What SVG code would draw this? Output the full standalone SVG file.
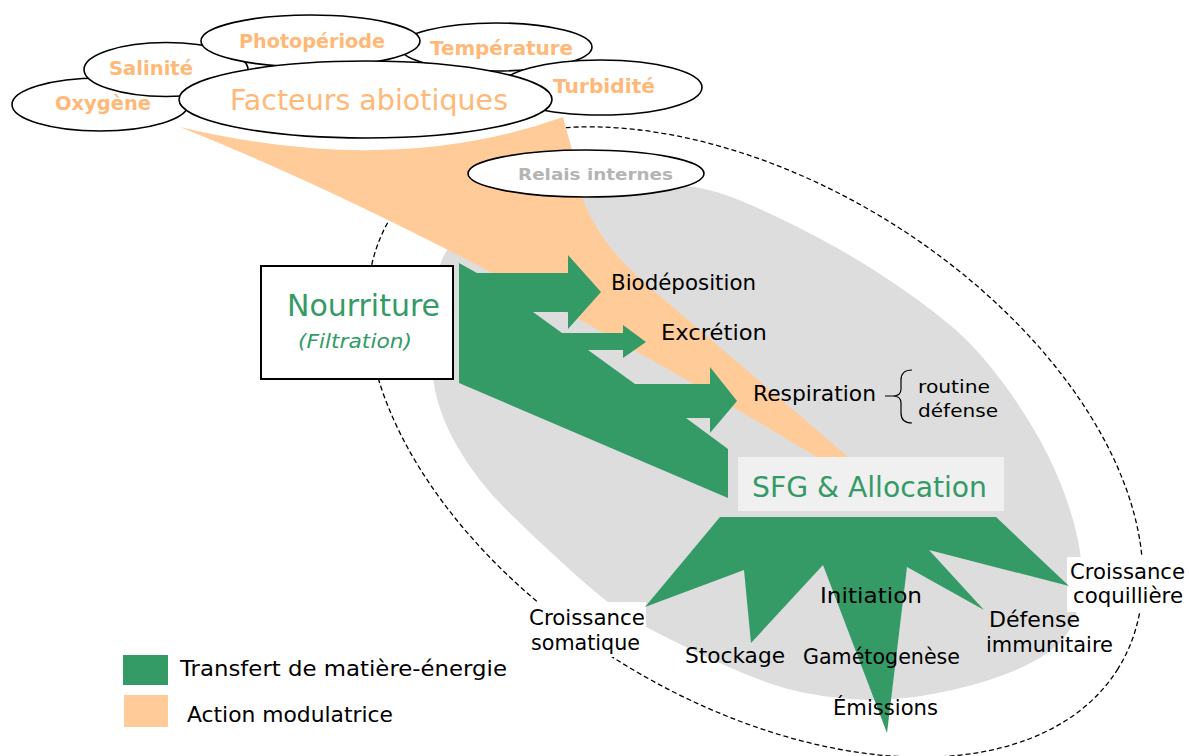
<svg xmlns="http://www.w3.org/2000/svg" width="1189" height="756" viewBox="0 0 1189 756">
<defs>
<style>
text{font-family:"DejaVu Sans","Liberation Sans",sans-serif;}
.lbl{font-size:21px;fill:#000;}
.grn{fill:#349a66;}
.gtx{fill:#349a66;}
.ora{fill:#ffcc99;}
.otx{fill:#ffb877;font-weight:bold;font-size:19px;}
.ell{fill:#fff;stroke:#000;stroke-width:1.6;}
</style>
</defs>
<rect width="1189" height="756" fill="#fff"/>
<g id="background">
<ellipse id="organism-outline" cx="755" cy="442" rx="428" ry="258" transform="rotate(32 755 442)" fill="none" stroke="#000" stroke-width="1.3" stroke-dasharray="5 3"/>
<path id="internal-zone" fill="#dddddd" d="M483.5,220 Q520,200 565,190 Q610,180 651.5,182.5 Q693,185 718,192.5 Q743,200 791.5,224 Q840,248 880,274 Q920,300 950,325 Q980,350 1010,392.5 Q1040,435 1056,472.5 Q1072,510 1078,540 Q1084,570 1080.5,596 Q1077,622 1063.5,638.5 Q1050,655 1017,669.5 Q984,684 935.5,693.5 Q887,703 843.5,698.5 Q800,694 770,683.5 Q740,673 693,650.5 Q646,628 626.5,615.5 Q607,603 573.5,573 Q540,543 508.5,512 Q477,481 457.5,447 Q438,413 433.5,381.5 Q429,350 431,320 Q433,290 440,265 Q447,240 483.5,220 Z"/>
</g>
<g id="connectors">
<path id="modulation-band" class="ora" d="M180,127 Q394,178 563,117 L572,150 C578,215 610,255 660,296 L847,456 L838,478 L815,456 Q452,236 180,127 Z"/>
<rect x="527" y="602" width="119" height="55" fill="#fff"/>
<rect x="1067" y="557" width="122" height="55" fill="#fff"/>
<polygon id="flux-entree" class="grn" points="459,263 477,273 568,273 568,255 601,292 568,329 568,312 533,312 562,333 623,333 623,325 646,342 623,358 623,350 588,350 635,384 710,384 710,367 737,401 710,433 710,418 686,418 728,449 728,498 459,383"/>
<polygon id="flux-allocation" class="grn" points="720,517 645,607 744,570 751,643 823,565 887,733 907,567 984,610 929,550 1069,586 996,517"/>
</g>
<g id="abiotic-factors">
<g id="oxygene"><ellipse class="ell" cx="100" cy="104.5" rx="88" ry="26.5"/><text class="otx" x="55" y="110" textLength="96" lengthAdjust="spacingAndGlyphs">Oxygène</text></g>
<g id="salinite"><ellipse class="ell" cx="166" cy="69.5" rx="82" ry="27"/><text class="otx" x="109" y="75" textLength="84" lengthAdjust="spacingAndGlyphs">Salinité</text></g>
<g id="temperature"><ellipse class="ell" cx="496" cy="47" rx="96" ry="24"/><text class="otx" x="430" y="55" textLength="143" lengthAdjust="spacingAndGlyphs">Température</text></g>
<g id="photoperiode"><ellipse class="ell" cx="310.5" cy="41" rx="109.5" ry="26"/><text class="otx" x="239" y="48" textLength="146" lengthAdjust="spacingAndGlyphs">Photopériode</text></g>
<g id="turbidite"><ellipse class="ell" cx="601" cy="87.5" rx="101" ry="27.5"/><text class="otx" x="553" y="93" textLength="102" lengthAdjust="spacingAndGlyphs">Turbidité</text></g>
<g id="facteurs-abiotiques"><ellipse class="ell" cx="365.5" cy="99.5" rx="186.5" ry="38.5"/><text x="230" y="110" font-size="29" fill="#ffb877" textLength="278" lengthAdjust="spacingAndGlyphs">Facteurs abiotiques</text></g>
</g>
<g id="relais-internes"><ellipse class="ell" cx="586" cy="173.5" rx="118" ry="23.5"/><text x="518" y="180" font-size="16.5" font-weight="bold" fill="#b4b4b4" textLength="155" lengthAdjust="spacingAndGlyphs">Relais internes</text></g>
<g id="nourriture"><rect x="261" y="266" width="192" height="113" fill="#fff" stroke="#000" stroke-width="2"/><text class="gtx" x="287" y="316" font-size="30" textLength="153" lengthAdjust="spacingAndGlyphs">Nourriture</text><text class="gtx" x="298" y="348" font-size="20" font-style="italic" textLength="114" lengthAdjust="spacingAndGlyphs">(Filtration)</text></g>
<g id="biodeposition"><text class="lbl" x="611" y="290" textLength="145" lengthAdjust="spacingAndGlyphs">Biodéposition</text></g>
<g id="excretion"><text class="lbl" x="661" y="340" textLength="106" lengthAdjust="spacingAndGlyphs">Excrétion</text></g>
<g id="respiration"><text class="lbl" x="753" y="401" textLength="123" lengthAdjust="spacingAndGlyphs">Respiration</text>
<path d="M885,396 L893,396 M912,370 Q901,370 901,380 L901,389 Q901,396 893,396 Q901,396 901,403 L901,413 Q901,423 912,423" fill="none" stroke="#000" stroke-width="1.2"/>
<text x="918" y="393" font-size="18" textLength="72" lengthAdjust="spacingAndGlyphs">routine</text>
<text x="918" y="417" font-size="18" textLength="80" lengthAdjust="spacingAndGlyphs">défense</text></g>
<g id="sfg-allocation"><rect x="738" y="457" width="266" height="54" fill="#f0f0f0"/><text class="gtx" x="752" y="497" font-size="28" textLength="235" lengthAdjust="spacingAndGlyphs">SFG &amp; Allocation</text></g>
<g id="croissance-somatique"><text class="lbl" x="529" y="625" textLength="116" lengthAdjust="spacingAndGlyphs">Croissance</text><text class="lbl" x="531" y="650" textLength="109" lengthAdjust="spacingAndGlyphs">somatique</text></g>
<g id="stockage"><text class="lbl" x="685" y="663" textLength="100" lengthAdjust="spacingAndGlyphs">Stockage</text></g>
<g id="initiation"><text class="lbl" x="820" y="603" textLength="102" lengthAdjust="spacingAndGlyphs">Initiation</text></g>
<g id="gametogenese"><text class="lbl" x="803" y="664" textLength="157" lengthAdjust="spacingAndGlyphs">Gamétogenèse</text></g>
<g id="emissions"><text class="lbl" x="833" y="715" textLength="105" lengthAdjust="spacingAndGlyphs">Émissions</text></g>
<g id="defense-immunitaire"><text class="lbl" x="989" y="627" textLength="91" lengthAdjust="spacingAndGlyphs">Défense</text><text class="lbl" x="986" y="652" textLength="127" lengthAdjust="spacingAndGlyphs">immunitaire</text></g>
<g id="croissance-coquilliere"><text class="lbl" x="1070" y="579" textLength="115" lengthAdjust="spacingAndGlyphs">Croissance</text><text class="lbl" x="1073" y="603" textLength="110" lengthAdjust="spacingAndGlyphs">coquillière</text></g>
<g id="legende">
<rect x="123" y="655" width="45" height="30" class="grn"/>
<text class="lbl" x="180" y="676" textLength="327" lengthAdjust="spacingAndGlyphs">Transfert de matière-énergie</text>
<rect x="124" y="695" width="44" height="32" class="ora"/>
<text class="lbl" x="187" y="722" textLength="206" lengthAdjust="spacingAndGlyphs">Action modulatrice</text>
</g>
</svg>
